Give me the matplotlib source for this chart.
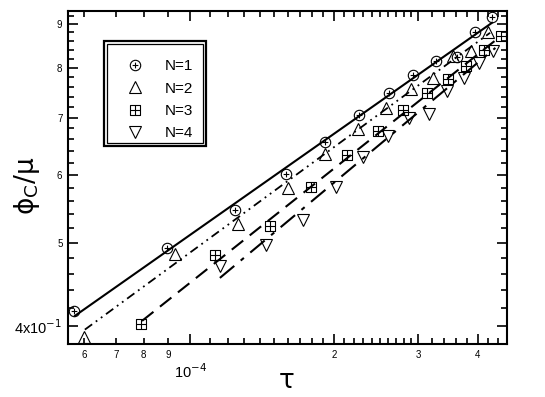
import numpy as np
import matplotlib
matplotlib.use("Agg")
import matplotlib.pyplot as plt
from matplotlib.path import Path
from matplotlib.patches import Rectangle
from matplotlib.ticker import FixedLocator, FuncFormatter, NullFormatter

plt.rcParams['font.family'] = ['Liberation Sans', 'DejaVu Sans']
plt.rcParams['mathtext.fontset'] = 'dejavusans'

# data (tau, phi_c/mu)
tau1 = [5.72e-5, 8.95e-5, 1.24e-4, 1.59e-4, 1.92e-4, 2.26e-4, 2.61e-4, 2.93e-4, 3.27e-4, 3.62e-4, 3.95e-4, 4.28e-4]
phi1 = [0.416, 0.493, 0.546, 0.602, 0.656, 0.705, 0.748, 0.785, 0.815, 0.824, 0.881, 0.918]

tau2 = [6.0e-5, 9.3e-5, 1.26e-4, 1.60e-4, 1.92e-4, 2.25e-4, 2.57e-4, 2.90e-4, 3.22e-4, 3.55e-4, 3.87e-4, 4.20e-4]
phi2 = [0.388, 0.485, 0.526, 0.580, 0.635, 0.679, 0.719, 0.756, 0.779, 0.826, 0.837, 0.881]

tau3 = [7.90e-5, 1.13e-4, 1.47e-4, 1.79e-4, 2.13e-4, 2.47e-4, 2.79e-4, 3.13e-4, 3.47e-4, 3.78e-4, 4.12e-4, 4.47e-4]
phi3 = [0.402, 0.484, 0.523, 0.581, 0.633, 0.676, 0.715, 0.748, 0.777, 0.804, 0.840, 0.872]

tau4 = [1.155e-4, 1.44e-4, 1.72e-4, 2.02e-4, 2.30e-4, 2.60e-4, 2.87e-4, 3.16e-4, 3.45e-4, 3.74e-4, 4.02e-4, 4.30e-4]
phi4 = [0.470, 0.497, 0.532, 0.581, 0.630, 0.666, 0.699, 0.707, 0.752, 0.779, 0.811, 0.837]

# fitted power-law lines (end points)
fit1_tau = [5.75e-5, 4.28e-4]
fit1_phi = [0.411, 0.903]
fit2_tau = [6.03e-5, 4.24e-4]
fit2_phi = [0.396, 0.879]
fit3_tau = [7.94e-5, 4.45e-4]
fit3_phi = [0.4054, 0.870]
fit4_tau = [1.155e-4, 4.35e-4]
fit4_phi = [0.455, 0.844]

labels = ['N=1', 'N=2', 'N=3', 'N=4']

# circle-plus and boxed-cross markers
circ = Path.unit_circle()
plus = Path([(-0.55, 0), (0.55, 0), (0, -0.55), (0, 0.55)],
            [Path.MOVETO, Path.LINETO, Path.MOVETO, Path.LINETO])
oplus = Path.make_compound_path(circ, plus)
sq = Path([(-1, -1), (1, -1), (1, 1), (-1, 1), (-1, -1), (-1, 0), (1, 0), (0, -1), (0, 1)],
          [Path.MOVETO, Path.LINETO, Path.LINETO, Path.LINETO, Path.CLOSEPOLY,
           Path.MOVETO, Path.LINETO, Path.MOVETO, Path.LINETO])

fig = plt.figure(figsize=(5.45, 3.97), dpi=100)
ax = fig.add_axes([68/545, 1-344/397, (507-68)/545, (344-11)/397])

ax.set_xscale('log')
ax.set_yscale('log')

ax.plot(fit1_tau, fit1_phi, color='black', lw=1.5, ls='-')
ax.plot(fit2_tau, fit2_phi, color='black', lw=1.3, ls=(0, (5, 2.5, 1, 2.5, 1, 2.5)))
ax.plot(fit3_tau, fit3_phi, color='black', lw=1.5, ls=(0, (7, 4)))
ax.plot(fit4_tau, fit4_phi, color='black', lw=1.5, ls=(0, (9, 4, 2, 4)))

mk = dict(color='black', ls='none', mfc='none', mew=0.8)
ax.plot(tau1, phi1, marker=oplus, ms=7.5, label=labels[0], **mk)
ax.plot(tau2, phi2, marker='^', ms=8, label=labels[1], **mk)
ax.plot(tau3, phi3, marker=sq, ms=6.5, label=labels[2], **mk)
ax.plot(tau4, phi4, marker='v', ms=8, label=labels[3], **mk)

ax.set_xlim(5.56e-5, 4.6e-4)
ax.set_ylim(0.381, 0.932)

# x ticks
ax.xaxis.set_major_locator(FixedLocator([1e-4, 2e-4, 3e-4, 4e-4]))
ax.xaxis.set_major_formatter(FuncFormatter(lambda v, p: '' if abs(v - 1e-4) < 1e-9 else '%d' % round(v * 1e4)))
xminor = [6e-5, 7e-5, 8e-5, 9e-5] + [k * 1e-5 for k in range(11, 30) if k != 20] + [3.2e-4, 3.4e-4, 3.6e-4, 3.8e-4, 4.2e-4, 4.4e-4]
ax.xaxis.set_minor_locator(FixedLocator(xminor))
ax.xaxis.set_minor_formatter(FuncFormatter(lambda v, p: '%d' % round(v * 1e5) if v < 9.5e-5 else ''))

# y ticks
ax.yaxis.set_major_locator(FixedLocator([0.4, 0.5, 0.6, 0.7, 0.8, 0.9]))
ax.yaxis.set_major_formatter(FuncFormatter(lambda v, p: r'4x10$^{-1}$' if v < 0.45 else '%d' % round(v * 10)))
ax.yaxis.set_minor_locator(FixedLocator([round(0.38 + 0.02 * k, 2) for k in range(28)]))
ax.yaxis.set_minor_formatter(NullFormatter())

ax.tick_params(which='both', direction='in', top=True, right=True, width=1.2, colors='black')
ax.tick_params(which='major', length=7, labelsize=7, pad=4)
ax.tick_params(which='minor', length=4, labelsize=7, pad=4)
for t in ax.yaxis.get_majorticklabels():
    if 'x10' in t.get_text():
        t.set_fontsize(10.5)
for sp in ax.spines.values():
    sp.set_linewidth(1.5)

fig.text(190/545, 1-372/397, r'10$^{-4}$', fontsize=10.5, ha='center', va='center')
fig.text(287/545, 1-381/397, 'τ', fontsize=19, ha='center', va='center', family='DejaVu Sans')
fig.text(27/545, 1-186/397, r'ϕ$_{\mathrm{C}}$/μ', fontsize=19, ha='center', va='center',
         rotation=90, family='DejaVu Sans')

leg = ax.legend(loc='upper left', bbox_to_anchor=((107-68)/439, 1-(44-11)/333),
                frameon=False, fontsize=11, handletextpad=1.2, labelspacing=0.55,
                handlelength=1.6, borderpad=0.5)

# double frame around legend
fig.patches.append(Rectangle((104/545, 1-146/397), 102/545, 105/397, transform=fig.transFigure,
                             fill=False, lw=1.6, ec='black'))
fig.patches.append(Rectangle((107/545, 1-143/397), 96/545, 99/397, transform=fig.transFigure,
                             fill=False, lw=0.9, ec='black'))

fig.savefig('out.png', dpi=100)
